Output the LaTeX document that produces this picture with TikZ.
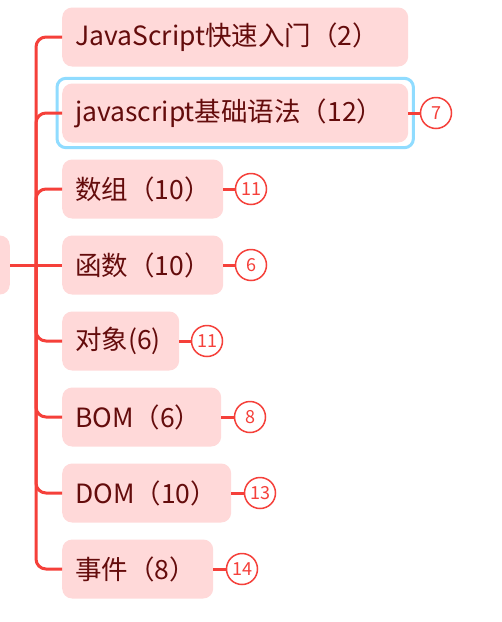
\documentclass[tikz,border=0pt]{standalone}
\usepackage{fontspec}
\setmainfont{Noto Sans CJK SC}
\usetikzlibrary{fit}
\definecolor{brred}{RGB}{245,64,58}
\definecolor{nodefill}{RGB}{255,217,217}
\definecolor{nodetext}{RGB}{100,12,12}
\definecolor{selblue}{RGB}{144,220,255}
\tikzset{
  topic/.style={fill=nodefill, text=nodetext, rounded corners=10pt, anchor=west,
    minimum height=59pt, inner xsep=13pt, inner ysep=0pt, align=left,
    font=\fontsize{26.5}{30}\selectfont},
  badge/.style={circle, draw=brred, line width=1.5pt, fill=white, text=brred,
    minimum size=31pt, inner sep=0pt, font=\fontsize{18}{20}\selectfont},
  branch/.style={draw=brred, line width=3pt, rounded corners=10pt},
  link/.style={draw=brred, line width=3pt},
}
\begin{document}
\begin{tikzpicture}[x=1pt,y=-1pt]
\useasboundingbox (0,0) rectangle (502,622);
\clip (0,0) rectangle (502,622);
\fill[white] (0,0) rectangle (502,622);
% root (partially visible)
\node[fill=nodefill, rounded corners=10pt, minimum width=110pt, minimum height=59pt, anchor=east, inner sep=0pt] (root) at (10,265) {};
\coordinate (j) at (36,265);
% topics
\node[topic, text width=320pt] (n1) at (62,37) {JavaScript快速入门（2）};
\node[topic, text width=320pt] (n2) at (62,113) {javascript基础语法（12）};
\node[topic, text width=135pt] (n3) at (62,189) {数组（10）};
\node[topic, text width=135pt] (n4) at (62,265) {函数（10）};
\node[topic, text width=91pt] (n5) at (62,341) {对象(6)};
\node[topic, text width=133pt] (n6) at (62,417) {BOM（6）};
\node[topic, text width=143pt] (n7) at (62,493) {DOM（10）};
\node[topic, text width=125pt] (n8) at (62,569) {事件（8）};
% selection frame
\node[fit=(n2), draw=selblue, line width=3pt, rounded corners=9pt, inner sep=5pt] (sel) {};
% branches
\path[branch] (root.east) -- (n4.west);
\foreach \n in {n1,n2,n3,n5,n6,n7,n8}{
  \path[branch] (j) |- (\n.west);
}
% badges
\node[badge] (c2) at (436,113) {7};
\node[badge] (c3) at (251,189) {11};
\node[badge] (c4) at (251,265) {6};
\node[badge] (c5) at (207,341) {11};
\node[badge] (c6) at (250,417) {8};
\node[badge] (c7) at (260,493) {13};
\node[badge] (c8) at (242,569) {14};
\foreach \a/\b in {n2/c2,n3/c3,n4/c4,n5/c5,n6/c6,n7/c7,n8/c8}{
  \path[link] (\a.east) -- (\b.west);
}
\end{tikzpicture}
\end{document}
